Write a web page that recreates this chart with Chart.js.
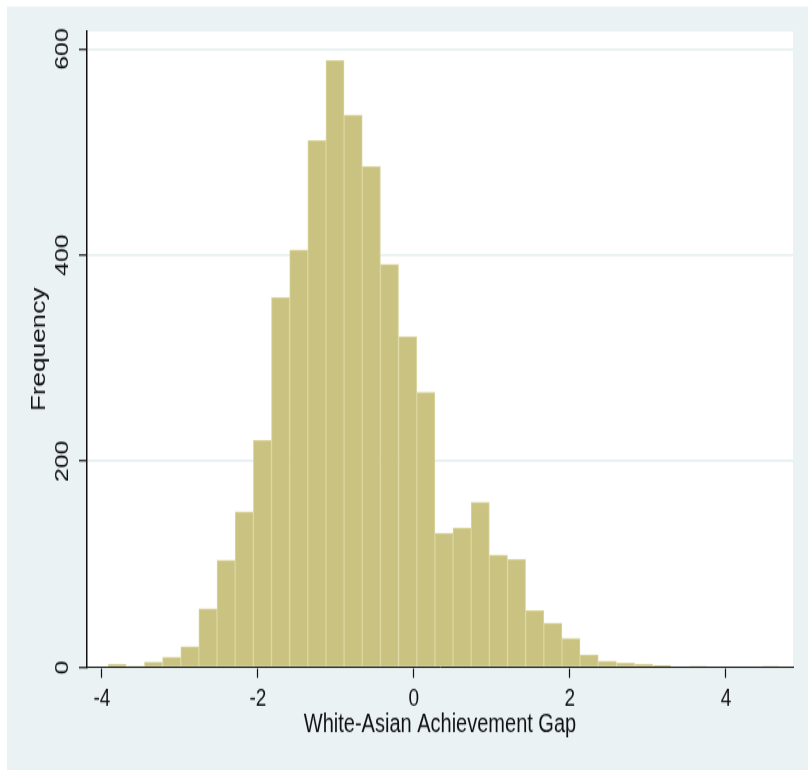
<!DOCTYPE html>
<html>
<head>
<meta charset="utf-8">
<script src="https://cdn.jsdelivr.net/npm/chart.js@4"></script>
<style>
  html, body { margin: 0; padding: 0; background: #fff; overflow: hidden; }
</style>
</head>
<body>
<!-- drawn at Stata's 5.5x4 aspect (808x588), shown stretched to 808x770 like the reference -->
<canvas id="hist" width="808" height="588" style="width:808px;height:770px;display:block"></canvas>
<script>
// bin centres of the 37 histogram bins (width ~0.2327)
const binCenters = [
  -3.803, -3.570, -3.338, -3.105, -2.872, -2.640, -2.407, -2.174, -1.941, -1.709,
  -1.476, -1.243, -1.011, -0.778, -0.545, -0.313, -0.080, 0.153, 0.386, 0.618,
  0.851, 1.084, 1.316, 1.549, 1.782, 2.014, 2.247, 2.480, 2.713, 2.945,
  3.178, 3.411, 3.643, 3.876, 4.109, 4.341, 4.574
];
const frequencies = [
  3, 1, 5, 10, 20, 57, 104, 151, 220, 359,
  405, 511, 589, 536, 486, 391, 321, 267, 130, 135,
  160, 109, 105, 55, 43, 28, 12, 6, 4, 3,
  2, 0, 1, 0, 0, 0, 1
];
const xTicks = [-4, -2, 0, 2, 4];
const yTicks = [0, 200, 400, 600];
const xTitle = "White-Asian Achievement Gap";
const yTitle = "Frequency";

const bgGray = "rgb(234,242,243)";
const ink = "#111";

const backdrop = {
  id: "backdrop",
  beforeDraw(chart) {
    const { ctx, width, height, chartArea: a } = chart;
    ctx.save();
    ctx.fillStyle = "#fff";
    ctx.fillRect(0, 0, width, height);
    ctx.fillStyle = bgGray;
    ctx.fillRect(7, 5, width - 7, height - 5);
    ctx.fillStyle = "#fff";
    ctx.fillRect(a.left, a.top, a.right - a.left, a.bottom - a.top);
    ctx.restore();
  }
};

new Chart(document.getElementById("hist"), {
  type: "bar",
  data: {
    datasets: [{
      data: binCenters.map((x, i) => ({ x: x, y: frequencies[i] })),
      backgroundColor: "rgb(201,194,128)",
      borderColor: "rgb(218,213,156)",
      borderWidth: 1,
      borderSkipped: "start",
      barPercentage: 1,
      categoryPercentage: 1
    }]
  },
  options: {
    responsive: false,
    animation: false,
    events: [],
    layout: { padding: { top: 24, right: 15, left: 0, bottom: 0 } },
    plugins: { legend: { display: false }, tooltip: { enabled: false } },
    scales: {
      x: {
        type: "linear",
        offset: false,
        min: -4.19,
        max: 4.86,
        afterBuildTicks: s => { s.ticks = xTicks.map(v => ({ value: v })); },
        afterFit: s => { s.height = 78.4; },
        ticks: { color: ink, font: { family: "Liberation Sans", size: 19 }, padding: 5, maxRotation: 0 },
        grid: { drawOnChartArea: false, drawTicks: true, tickLength: 8, tickColor: ink, tickWidth: 1.2, offset: false },
        border: { display: true, color: ink, width: 1, z: 1 },
        title: { display: true, text: xTitle, color: ink, font: { family: "Liberation Sans", size: 20 }, padding: { top: 0, bottom: 23 } }
      },
      y: {
        min: 0,
        max: 617,
        afterBuildTicks: s => { s.ticks = yTicks.map(v => ({ value: v })); },
        afterFit: s => { s.width = 87; },
        ticks: { color: ink, font: { family: "Liberation Sans", size: 19 }, minRotation: 90, maxRotation: 90, crossAlign: "center", padding: 0 },
        grid: { color: "rgb(228,238,240)", lineWidth: 1.5, drawTicks: true, tickLength: 8, tickColor: ink, tickWidth: 1.2 },
        border: { display: true, color: ink, width: 1.5, z: 1 },
        title: { display: true, text: yTitle, color: ink, font: { family: "Liberation Sans", size: 20 }, padding: { top: 27.5, bottom: 0 } }
      }
    }
  },
  plugins: [backdrop]
});
</script>
</body>
</html>
